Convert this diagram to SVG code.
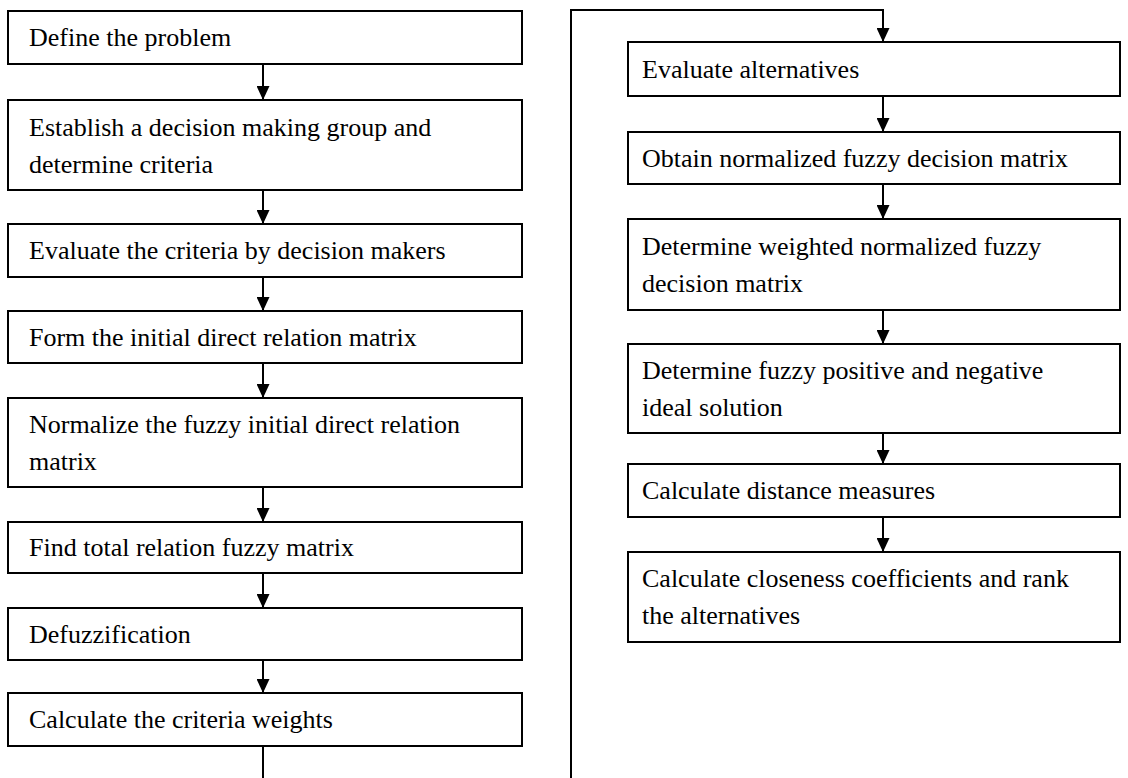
<svg xmlns="http://www.w3.org/2000/svg" width="1128" height="778" viewBox="0 0 1128 778">
<style>
.box{fill:#fff;stroke:#000;stroke-width:2}
.t{font-family:"Liberation Serif","Times New Roman",serif;font-size:26px;fill:#000}
.c{fill:none;stroke:#000;stroke-width:2}
</style>
<defs>
<marker id="ah" markerUnits="userSpaceOnUse" markerWidth="14" markerHeight="13" refX="14" refY="6.5" orient="auto">
<path d="M0,0 L14,6.5 L0,13 z" fill="#000"/>
</marker>
</defs>
<rect width="1128" height="778" fill="#fff"/>
<g id="connectors">
<line class="c" x1="263" y1="64" x2="263" y2="100" marker-end="url(#ah)"/>
<line class="c" x1="263" y1="190" x2="263" y2="224" marker-end="url(#ah)"/>
<line class="c" x1="263" y1="277" x2="263" y2="311" marker-end="url(#ah)"/>
<line class="c" x1="263" y1="363" x2="263" y2="398" marker-end="url(#ah)"/>
<line class="c" x1="263" y1="487" x2="263" y2="522" marker-end="url(#ah)"/>
<line class="c" x1="263" y1="573" x2="263" y2="608" marker-end="url(#ah)"/>
<line class="c" x1="263" y1="660" x2="263" y2="693" marker-end="url(#ah)"/>
<path class="c" d="M263,746 V790 H571 V10 H883 V42" marker-end="url(#ah)"/>
<line class="c" x1="883" y1="96" x2="883" y2="132" marker-end="url(#ah)"/>
<line class="c" x1="883" y1="184" x2="883" y2="219" marker-end="url(#ah)"/>
<line class="c" x1="883" y1="310" x2="883" y2="344" marker-end="url(#ah)"/>
<line class="c" x1="883" y1="433" x2="883" y2="464" marker-end="url(#ah)"/>
<line class="c" x1="883" y1="517" x2="883" y2="552" marker-end="url(#ah)"/>
</g>
<g id="n1"><rect class="box" x="8" y="11" width="514" height="53"/><text class="t" x="29" y="46">Define the problem</text></g>
<g id="n2"><rect class="box" x="8" y="100" width="514" height="90"/><text class="t" x="29" y="136">Establish a decision making group and</text><text class="t" x="29" y="173">determine criteria</text></g>
<g id="n3"><rect class="box" x="8" y="224" width="514" height="53"/><text class="t" x="29" y="259">Evaluate the criteria by decision makers</text></g>
<g id="n4"><rect class="box" x="8" y="311" width="514" height="52"/><text class="t" x="29" y="346">Form the initial direct relation matrix</text></g>
<g id="n5"><rect class="box" x="8" y="398" width="514" height="89"/><text class="t" x="29" y="433">Normalize the fuzzy initial direct relation</text><text class="t" x="29" y="470">matrix</text></g>
<g id="n6"><rect class="box" x="8" y="522" width="514" height="51"/><text class="t" x="29" y="556">Find total relation fuzzy matrix</text></g>
<g id="n7"><rect class="box" x="8" y="608" width="514" height="52"/><text class="t" x="29" y="643">Defuzzification</text></g>
<g id="n8"><rect class="box" x="8" y="693" width="514" height="53"/><text class="t" x="29" y="728">Calculate the criteria weights</text></g>
<g id="n9"><rect class="box" x="628" y="42" width="492" height="54"/><text class="t" x="642" y="78">Evaluate alternatives</text></g>
<g id="n10"><rect class="box" x="628" y="132" width="492" height="52"/><text class="t" x="642" y="167">Obtain normalized fuzzy decision matrix</text></g>
<g id="n11"><rect class="box" x="628" y="219" width="492" height="91"/><text class="t" x="642" y="255">Determine weighted normalized fuzzy</text><text class="t" x="642" y="292">decision matrix</text></g>
<g id="n12"><rect class="box" x="628" y="344" width="492" height="89"/><text class="t" x="642" y="379">Determine fuzzy positive and negative</text><text class="t" x="642" y="416">ideal solution</text></g>
<g id="n13"><rect class="box" x="628" y="464" width="492" height="53"/><text class="t" x="642" y="499">Calculate distance measures</text></g>
<g id="n14"><rect class="box" x="628" y="552" width="492" height="90"/><text class="t" x="642" y="587">Calculate closeness coefficients and rank</text><text class="t" x="642" y="624">the alternatives</text></g>
</svg>
